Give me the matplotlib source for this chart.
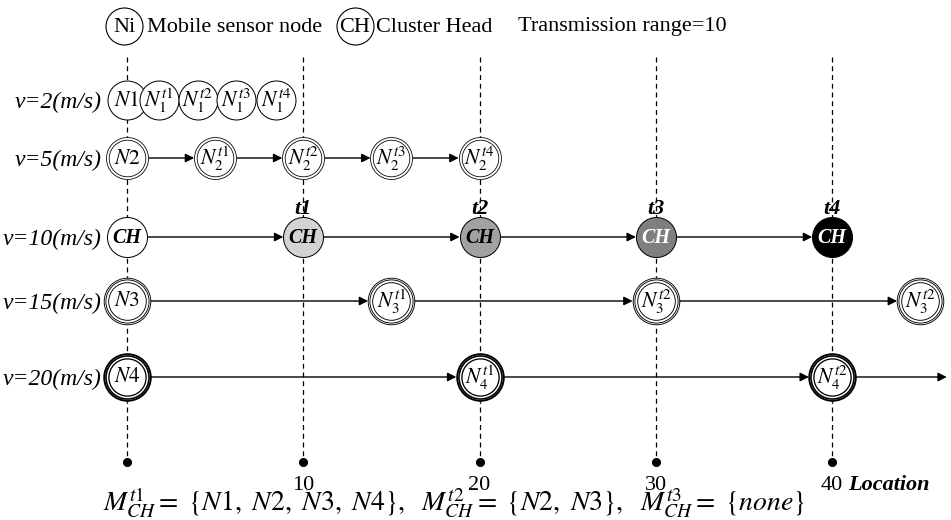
import matplotlib
matplotlib.use('Agg')
import matplotlib.pyplot as plt

plt.rcParams['font.family'] = ['Liberation Serif', 'DejaVu Serif']
plt.rcParams['mathtext.fontset'] = 'stix'
plt.rcParams['mathtext.default'] = 'it'

# ---------------- data ----------------
row_labels = ['v=2(m/s)', 'v=5(m/s)', 'v=10(m/s)', 'v=15(m/s)', 'v=20(m/s)']
loc_ticks = [10, 20, 30, 40]
time_labels = ['t1', 't2', 't3', 't4']

n1_loc = [0, 1.8, 4.0, 6.2, 8.45]
n1_labels = ['$N1$', '$N_1^{t1}$', '$N_1^{t2}$', '$N_1^{t3}$', '$N_1^{t4}$']
n2_loc = [0, 5, 10, 15, 20]
n2_labels = ['$N2$', '$N_2^{t1}$', '$N_2^{t2}$', '$N_2^{t3}$', '$N_2^{t4}$']
ch_loc = [0, 10, 20, 30, 40]
ch_fill = ['white', '#d3d3d3', '#a2a2a2', '#7f7f7f', 'black']
ch_text = ['black', 'black', 'black', 'white', 'white']
n3_loc = [0, 15, 30, 45]
n3_labels = ['$N3$', '$N_3^{t1}$', '$N_3^{t2}$', '$N_3^{t2}$']
n4_loc = [0, 20, 40]
n4_labels = ['$N4$', '$N_4^{t1}$', '$N_4^{t2}$']
n4_arrow_end = 46.5

formula = (r'$M_{CH}^{t\mathrm{1}}=\ \{N\mathrm{1},\ N\mathrm{2},\ N\mathrm{3},\ N\mathrm{4}\},\ \ '
           r'M_{CH}^{t\mathrm{2}}=\ \{N\mathrm{2},\ N\mathrm{3}\},\ \ '
           r'M_{CH}^{t\mathrm{3}}=\ \{none\}$')

# ---------------- layout ----------------
W, H = 951, 520
X0, SX = 127, 17.63
ROW_Y = [100, 158, 237, 301, 377]
TOP_Y, DOT_Y = 57, 462

fig = plt.figure(figsize=(W / 100, H / 100), dpi=100)
ax = fig.add_axes([0, 0, 1, 1])
ax.set_xlim(-X0 / SX, (W - X0) / SX)
ax.set_ylim(H, 0)
ax.axis('off')

PT = 0.72  # points per pixel

STYLES = {
    'single': [(19.5, 1.0)],
    'ch': [(20, 1.0)],
    'double': [(21, 0.8), (18.3, 0.8)],
    'triple': [(23.3, 0.9), (21.6, 0.9), (18.8, 0.9)],
    'heavy': [(23.3, 1.9), (21.5, 1.6), (18.6, 1.3)],
}


def node(x, y, label, style, fill='white', tcolor='black', fs=15.5, bold=False):
    rings = STYLES[style]
    for i, (r, lw) in enumerate(rings):
        ax.plot([x], [y], 'o', ms=2 * r * PT, mfc=fill if i == 0 else 'none',
                mec='black', mew=lw * PT, zorder=3 + i)
    kw = dict(fontweight='bold', style='italic') if bold else {}
    ax.text(x, y + 1, label, ha='center', va='center', fontsize=fs,
            color=tcolor, zorder=10, **kw)
    return rings[0][0]


def arrow(x1, x2, y, r1, r2):
    ax.annotate('', xy=(x2, y), xytext=(x1, y),
                arrowprops=dict(arrowstyle='-|>', color='black', lw=1.0,
                                shrinkA=r1 * PT, shrinkB=r2 * PT,
                                mutation_scale=13), zorder=2)


# dashed vertical lines and location dots
ax.vlines(ch_loc, TOP_Y, DOT_Y, colors='black', linestyles=(0, (4, 3)), lw=0.9, zorder=1)
ax.plot(ch_loc, [DOT_Y] * len(ch_loc), 'o', color='black', ms=5.5, zorder=2)
for t in loc_ticks:
    ax.text(t, 490, str(t), ha='center', va='baseline', fontsize=16)
fig.text(848 / W, 1 - 490 / H, 'Location', ha='left', va='baseline', fontsize=16,
         fontweight='bold', style='italic')

# row 1: v=2
y = ROW_Y[0]
for x, lab in zip(n1_loc, n1_labels):
    node(x, y, lab, 'single')

# row 2: v=5
y = ROW_Y[1]
for i, (x, lab) in enumerate(zip(n2_loc, n2_labels)):
    r = node(x, y, lab, 'double')
    if i > 0:
        arrow(n2_loc[i - 1], x, y, r, r)

# row 3: cluster head
y = ROW_Y[2]
for i, x in enumerate(ch_loc):
    r = node(x, y, 'CH', 'ch', fill=ch_fill[i], tcolor=ch_text[i], fs=14.5, bold=True)
    if i > 0:
        arrow(ch_loc[i - 1], x, y, r, r)
for x, t in zip(ch_loc[1:], time_labels):
    ax.text(x, 214, t, ha='center', va='baseline', fontsize=16,
            fontweight='bold', style='italic')

# row 4: v=15
y = ROW_Y[3]
for i, (x, lab) in enumerate(zip(n3_loc, n3_labels)):
    r = node(x, y, lab, 'triple')
    if i > 0:
        arrow(n3_loc[i - 1], x, y, r, r)

# row 5: v=20
y = ROW_Y[4]
for i, (x, lab) in enumerate(zip(n4_loc, n4_labels)):
    r = node(x, y, lab, 'heavy')
    if i > 0:
        arrow(n4_loc[i - 1], x, y, r, r)
arrow(n4_loc[-1], n4_arrow_end, y, 23.3, 0)

# row labels
for yy, lab in zip(ROW_Y, row_labels):
    fig.text(102 / W, 1 - (yy + 2) / H, lab, ha='right', va='center', fontsize=17, style='italic')

# legend at top
LEG_Y = 26
for cx, txt in [(124, 'Ni'), (355, 'CH')]:
    fig.add_artist(plt.Line2D([cx / W], [1 - LEG_Y / H], marker='o', ms=2 * 18.5 * PT,
                              mfc='white', mec='black', mew=0.8, transform=fig.transFigure))
    fig.text(cx / W, 1 - (LEG_Y + 1) / H, txt, ha='center', va='center', fontsize=16)
fig.text(147 / W, 1 - (LEG_Y + 1) / H, 'Mobile sensor node', ha='left', va='center', fontsize=16)
fig.text(376 / W, 1 - (LEG_Y + 1) / H, 'Cluster Head', ha='left', va='center', fontsize=16)
fig.text(518 / W, 1 - (LEG_Y + 1) / H, 'Transmission range=10', ha='left', va='center', fontsize=16)

# bottom formula
fig.text(103 / W, 1 - 511 / H, formula, ha='left', va='baseline', fontsize=20)

fig.savefig('out.png', dpi=100)
